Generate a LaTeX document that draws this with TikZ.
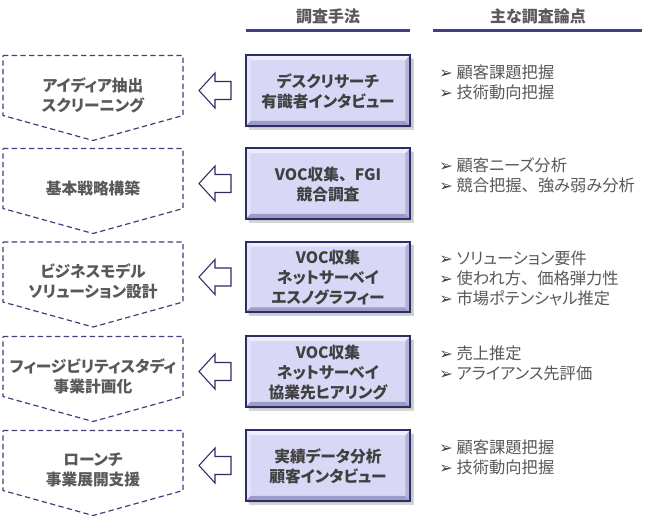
\documentclass[tikz,border=0pt]{standalone}
\usepackage{fontspec}
\setmainfont{Noto Sans CJK JP}[RawFeature=+palt]
\newfontfamily\nopalt{Noto Sans CJK JP}
\newfontfamily\dvfont{DejaVu Sans}
\newcommand\tou{{\nopalt 、}}
\definecolor{navy}{HTML}{2E2E66}
\definecolor{uline}{HTML}{3F3F8C}
\definecolor{dashc}{HTML}{40407C}
\definecolor{txtg}{HTML}{595959}
\definecolor{txtd}{HTML}{404040}
\definecolor{boxfill}{HTML}{D8D8F6}
\definecolor{bevtop}{HTML}{EEEEFE}
\definecolor{bevleft}{HTML}{E4E4FA}
\definecolor{bevbot}{HTML}{9C9CC6}
\definecolor{bevright}{HTML}{B4B4DA}
\tikzset{
  hdr/.style={font=\fontsize{12}{14}\selectfont\bfseries, text=txtg, inner sep=0pt},
  ulinestyle/.style={draw=uline, line width=2.2pt},
  pentstyle/.style={draw=dashc, line width=0.9pt, dash pattern=on 4pt off 2.5pt},
  ptext/.style={font=\fontsize{11.8}{15}\selectfont\bfseries, text=txtg, align=center, inner sep=0pt},
  mtext/.style={font=\fontsize{11.8}{15}\selectfont\bfseries, text=txtd, align=center, inner sep=0pt},
  mbox/.style={minimum width=123pt, minimum height=52.5pt, inner sep=0pt, fill=boxfill},
  harrowstyle/.style={draw=navy, line width=0.8pt, fill=white, line join=miter},
  liststyle/.style={font=\fontsize{12.2}{15}\selectfont, text=txtg, align=left, inner sep=0pt},
}
\newcommand\bul{\raisebox{0pt}{\color{txtd}\dvfont\fontsize{12}{10}\selectfont ➢}\hspace{3pt}}
% #1 index, #2 centre y, #3 stage text, #4 method text, #5 list, #6 number of list lines minus one
\newcommand\stagerow[6]{%
  \draw[pentstyle] (3,#2-35) -- (183,#2-35) -- (183,#2+25) -- (93,#2+50) -- (3,#2+25) -- cycle;
  \node[ptext] (p#1) at (93,#2+4.5) {#3};
  \draw[harrowstyle] (199,#2) -- (215,#2-17.5) -- (215,#2-9) -- (231,#2-9) -- (231,#2+9) -- (215,#2+9) -- (215,#2+17.5) -- cycle;
  \fill[black!45, opacity=0.35] (249,#2-32) rectangle (414,#2+39);
  \fill[black!30, opacity=0.35] (248,#2-33) rectangle (412.5,#2+37.5);
  \node[mbox] (m#1) at (328,#2) {};
  \fill[bevtop] (m#1.north west) -- (m#1.north east) -- ([shift={(-5,5)}]m#1.north east) -- ([shift={(5,5)}]m#1.north west) -- cycle;
  \fill[bevleft] (m#1.north west) -- ([shift={(5,5)}]m#1.north west) -- ([shift={(5,-5)}]m#1.south west) -- (m#1.south west) -- cycle;
  \fill[bevbot] (m#1.south west) -- ([shift={(5,-5)}]m#1.south west) -- ([shift={(-5,-5)}]m#1.south east) -- (m#1.south east) -- cycle;
  \fill[bevright] (m#1.north east) -- (m#1.south east) -- ([shift={(-5,-5)}]m#1.south east) -- ([shift={(-5,5)}]m#1.north east) -- cycle;
  \draw[navy, line width=1.3pt] (m#1.north west) rectangle (m#1.south east);
  \node[mtext] (mt#1) at (328,#2+1) {#4};
  \node[liststyle, anchor=base west] (l#1) at (439,#2-12.5+20*#6) {#5};
}
\begin{document}
\begin{tikzpicture}[x=0.75pt,y=-0.75pt]
\useasboundingbox (0,0) rectangle (645,519);
\fill[white] (0,0) rectangle (645,519);
\node[hdr] (h1) at (328,16) {調査手法};
\node[hdr] (h2) at (538,16) {主な調査論点};
\draw[ulinestyle] (246,30.5) -- (410,30.5);
\draw[ulinestyle] (433,30.5) -- (642,30.5);
\stagerow{1}{90.5}{アイディア抽出\\スクリーニング}{デスクリサーチ\\有識者インタビュー}{\bul 顧客課題把握\\\bul 技術動向把握}{1}
\stagerow{2}{183.5}{基本戦略構築}{VOC収集\tou FGI\\競合調査}{\bul 顧客ニーズ分析\\\bul 競合把握\tou 強み弱み分析}{1}
\stagerow{3}{277}{ビジネスモデル\\ソリューション設計}{VOC収集\\ネットサーベイ\\エスノグラフィー}{\bul ソリューション要件\\\bul 使われ方\tou 価格弾力性\\\bul 市場ポテンシャル推定}{2}
\stagerow{4}{371.5}{フィージビリティスタディ\\事業計画化}{VOC収集\\ネットサーベイ\\協業先ヒアリング}{\bul 売上推定\\\bul アライアンス先評価}{1}
\stagerow{5}{465.5}{ローンチ\\事業展開支援}{実績データ分析\\顧客インタビュー}{\bul 顧客課題把握\\\bul 技術動向把握}{1}
\end{tikzpicture}
\end{document}
